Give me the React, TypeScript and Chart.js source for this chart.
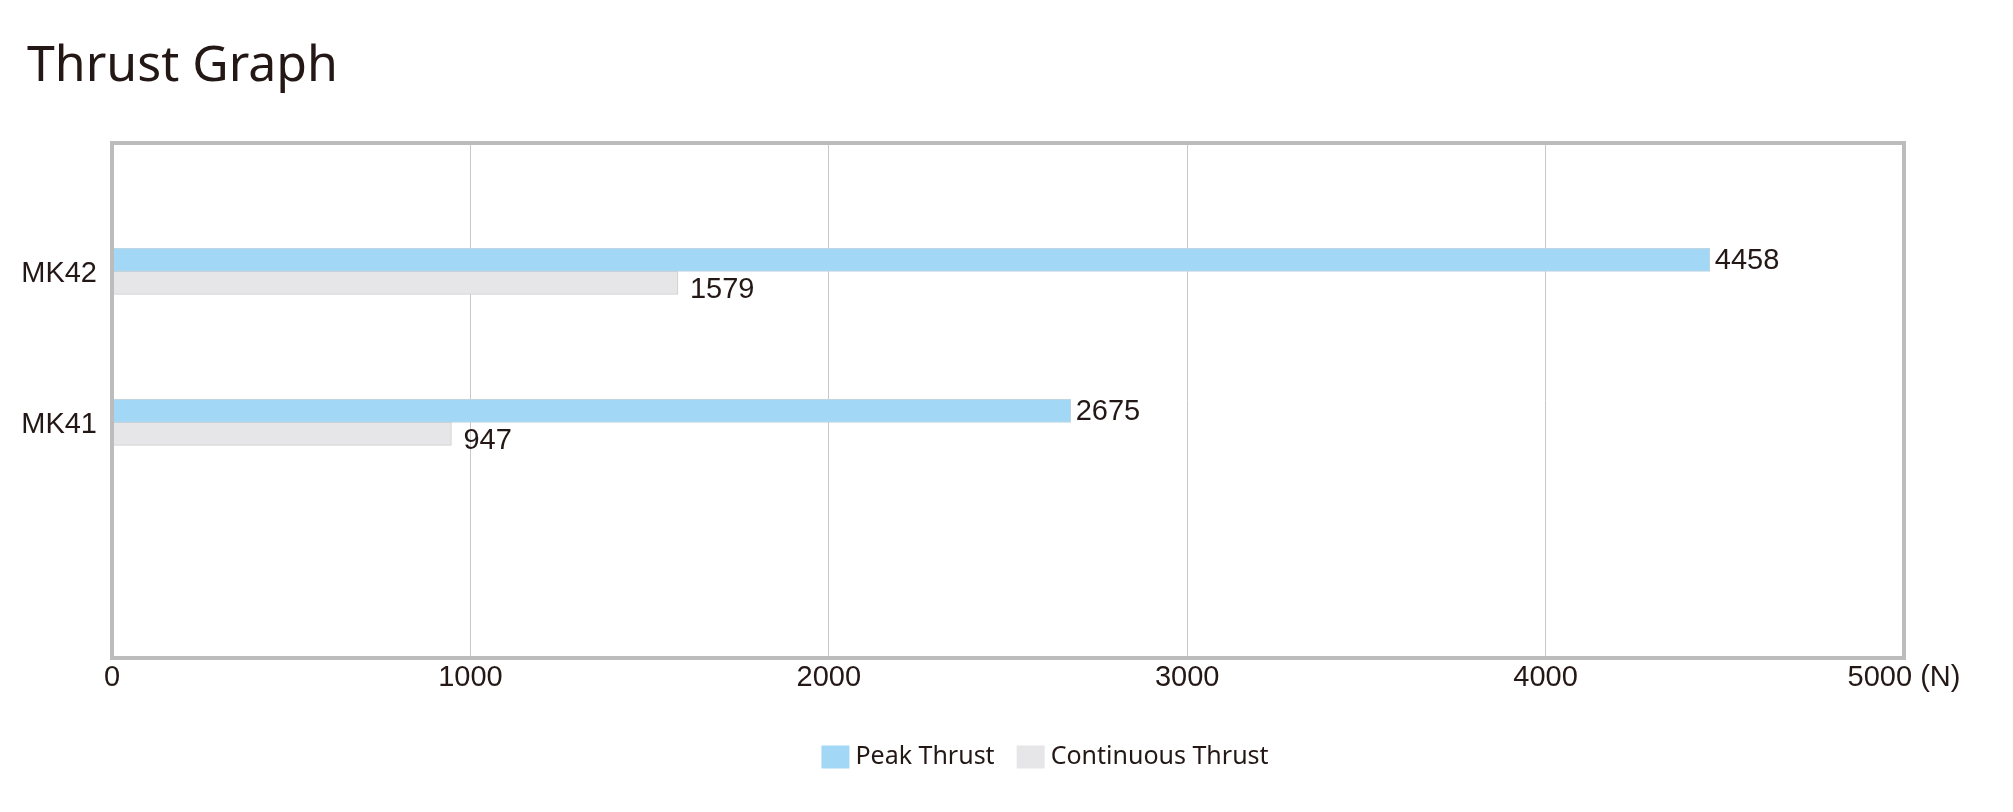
import React, { useEffect, useRef } from 'react';
import { Chart, registerables } from 'chart.js';

Chart.register(...registerables);

const TITLE = 'Thrust Graph';
const categories = ['MK42', 'MK41'];
const seriesNames = ['Peak Thrust', 'Continuous Thrust'];
const peakThrust = [4458, 2675];
const continuousThrust = [1579, 947];
const xMin = 0;
const xMax = 5000;
const xStep = 1000;
const unitLabel = '(N)';

const TEXT = '#231815';
const seriesFill = ['#a2d8f5', '#e6e6e8'];
const seriesBorder = ['#bfd5e1', '#cfcfcf'];
const labelDx = [5, 12];
const labelDy = [0, 6];
const NUM_FONT = '"Liberation Sans", Arial, sans-serif';
const UI_FONT = '"Noto Sans", "Open Sans", sans-serif';

const decorPlugin = {
  id: 'decor',
  afterDatasetsDraw(chart: any) {
    const { ctx, chartArea: a } = chart;
    ctx.save();
    ctx.strokeStyle = '#bcbcbc';
    ctx.lineWidth = 4;
    ctx.strokeRect(a.left, a.top, a.right - a.left, a.bottom - a.top);

    ctx.font = `29px ${NUM_FONT}`;
    ctx.fillStyle = TEXT;
    ctx.textBaseline = 'middle';
    ctx.textAlign = 'left';
    chart.data.datasets.forEach((ds: any, di: number) => {
      const meta = chart.getDatasetMeta(di);
      meta.data.forEach((bar: any, i: number) => {
        const v = ds.data[i].x;
        ctx.fillText(String(v), bar.x + labelDx[di], bar.y + 1 + labelDy[di]);
      });
    });
    ctx.restore();
  },
  afterDraw(chart: any) {
    const { ctx } = chart;
    ctx.save();
    ctx.font = `50px ${UI_FONT}`;
    ctx.fillStyle = TEXT;
    ctx.textAlign = 'left';
    ctx.textBaseline = 'alphabetic';
    ctx.fillText(TITLE, 27, 81);

    const boxW = 28;
    const boxH = 23;
    const gapBox = 6;
    const gapItem = 22;
    const cy = 757;
    const centerX = 1045;
    ctx.font = `25px ${UI_FONT}`;
    const ds = chart.data.datasets;
    const widths = ds.map((d: any) => boxW + gapBox + ctx.measureText(d.label).width);
    const total = widths.reduce((s: number, w: number) => s + w, 0) + gapItem * (ds.length - 1);
    let x = centerX - total / 2;
    ds.forEach((d: any, i: number) => {
      ctx.fillStyle = d.backgroundColor;
      ctx.fillRect(x, cy - boxH / 2, boxW, boxH);
      ctx.fillStyle = TEXT;
      ctx.textBaseline = 'middle';
      ctx.fillText(d.label, x + boxW + gapBox, cy);
      x += widths[i] + gapItem;
    });
    ctx.restore();
  },
};

export default function App() {
  const ref = useRef<HTMLCanvasElement | null>(null);

  useEffect(() => {
    document.body.style.margin = '0';
    document.body.style.overflow = 'hidden';
    const canvas = ref.current;
    if (!canvas) return;
    const seriesValues = [peakThrust, continuousThrust];
    const chart = new Chart(canvas, {
      type: 'bar',
      data: {
        datasets: seriesNames.map((name, si) => ({
          label: name,
          data: seriesValues[si].map((v, i) => ({ x: v, y: i + 1 })),
          backgroundColor: seriesFill[si],
          borderColor: seriesBorder[si],
          borderWidth: 1,
          barThickness: 23,
        })),
      },
      options: {
        indexAxis: 'y',
        animation: false,
        responsive: false,
        devicePixelRatio: 1,
        layout: { padding: { top: 143, left: 0, right: 109, bottom: 0 } },
        plugins: {
          legend: { display: false },
          title: { display: false },
          tooltip: { enabled: false },
        },
        scales: {
          x: {
            type: 'linear',
            position: 'bottom',
            min: xMin,
            max: xMax,
            ticks: {
              stepSize: xStep,
              padding: 3,
              color: TEXT,
              font: { family: NUM_FONT, size: 29 },
              maxRotation: 0,
              callback: (v: any) => (v === xMax ? `${v} ${unitLabel}` : String(v)),
            },
            grid: { color: '#c8c8c8', lineWidth: 1, drawTicks: false },
            border: { display: false },
            afterFit: (s: any) => {
              s.height = 154;
            },
          },
          y: {
            type: 'linear',
            reverse: true,
            offset: false,
            bounds: 'data',
            grace: 0,
            min: 0.15,
            max: 3.56,
            afterBuildTicks: (s: any) => {
              s.ticks = categories.map((_, i) => ({ value: i + 1 }));
            },
            ticks: {
              padding: 15,
              labelOffset: 3,
              color: TEXT,
              font: { family: NUM_FONT, size: 29 },
              callback: (v: any) => categories[Math.round(v) - 1] ?? '',
            },
            grid: { display: false, drawTicks: false, offset: false },
            border: { display: false },
            afterFit: (s: any) => {
              s.width = 112;
            },
          },
        },
      } as any,
      plugins: [decorPlugin],
    });
    return () => chart.destroy();
  }, []);

  return (
    <div style={{ width: 2013, height: 812 }}>
      <canvas ref={ref} width={2013} height={812} style={{ display: 'block' }} />
    </div>
  );
}
